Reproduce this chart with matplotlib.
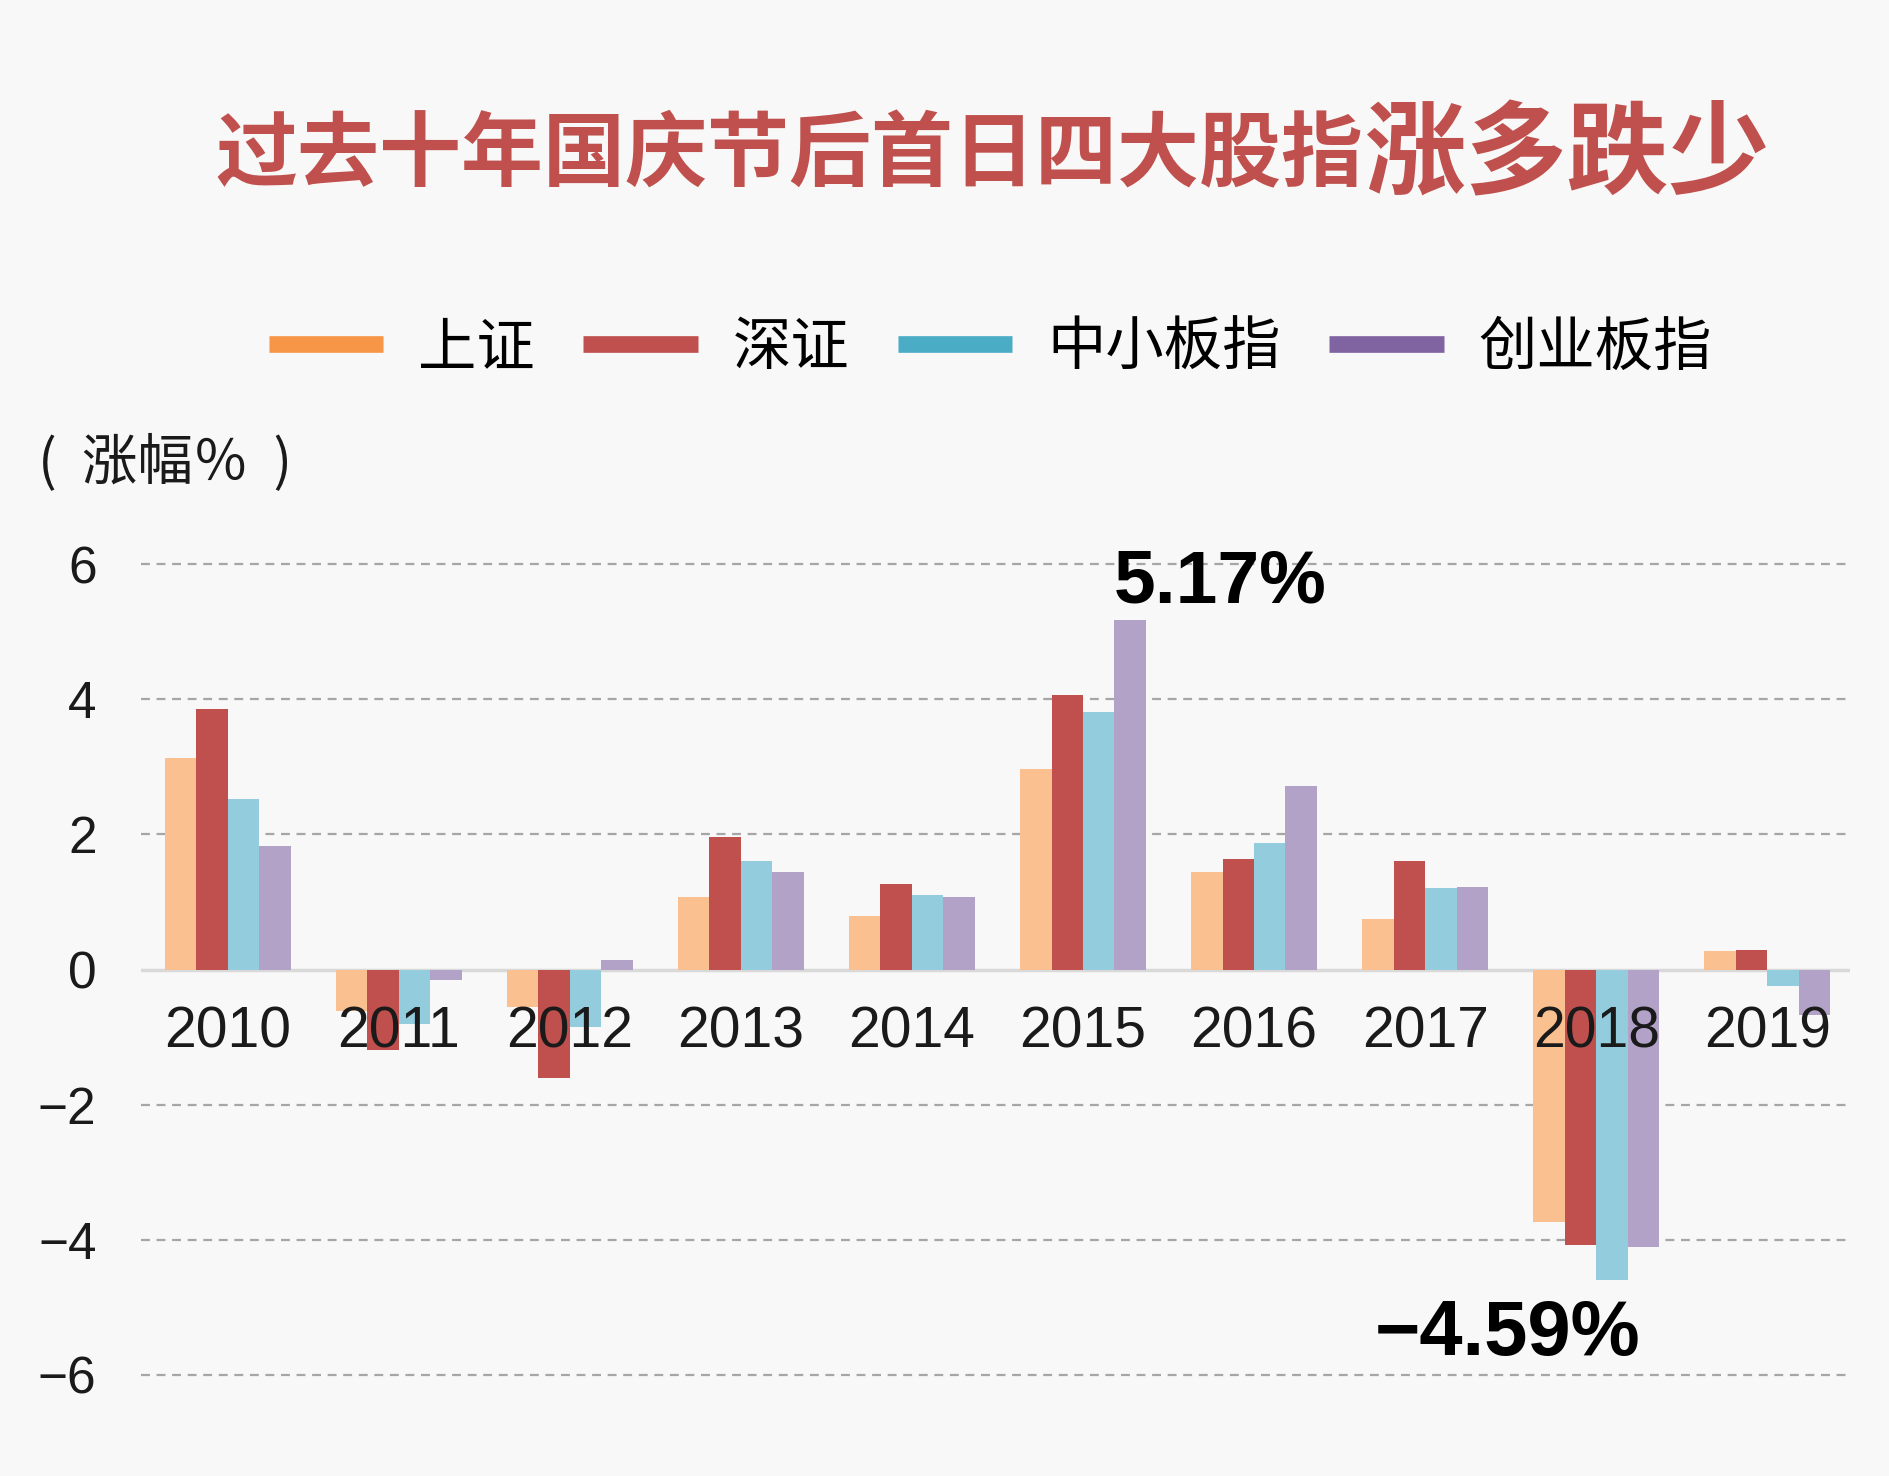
import matplotlib
matplotlib.use("Agg")
import matplotlib.pyplot as plt
from matplotlib.lines import Line2D
import numpy as np

years = ["2010", "2011", "2012", "2013", "2014", "2015", "2016", "2017", "2018", "2019"]
series_names = ["上证", "深证", "中小板指", "创业板指"]
shangzheng = [3.13, -0.62, -0.56, 1.07, 0.79, 2.96, 1.44, 0.75, -3.74, 0.28]
shenzheng = [3.85, -1.19, -1.60, 1.96, 1.27, 4.06, 1.64, 1.60, -4.07, 0.29]
zhongxiao = [2.52, -0.80, -0.85, 1.61, 1.11, 3.81, 1.87, 1.20, -4.59, -0.24]
chuangye = [1.83, -0.15, 0.14, 1.44, 1.07, 5.17, 2.71, 1.22, -4.10, -0.68]
ytick_vals = [-6, -4, -2, 0, 2, 4, 6]
ytick_labels = ["\u22126", "\u22124", "\u22122", "0", "2", "4", "6"]

bar_colors = ["#FAC090", "#C0504D", "#93CDDD", "#B3A2C7"]
legend_colors = ["#F79646", "#C0504D", "#4BACC6", "#8064A2"]
bg = "#F8F8F8"

plt.rcParams["font.family"] = ["Noto Sans CJK SC", "DejaVu Sans"]

fig = plt.figure(figsize=(18.9, 14.76), dpi=100, facecolor=bg)
ax = fig.add_axes([0.0746, 0.0593, 0.9044, 0.5677])
ax.set_facecolor(bg)

x = np.arange(len(years))
w = 0.184
all_series = [shangzheng, shenzheng, zhongxiao, chuangye]
for i, vals in enumerate(all_series):
    ax.bar(x + (i - 1.5) * w, vals, w, color=bar_colors[i], zorder=2, linewidth=0)

ax.set_xlim(-0.507, 9.486)
ax.set_ylim(-6.2, 6.2)

for v in ytick_vals:
    if v != 0:
        ax.axhline(v, color="#A6A6A6", lw=1.6, ls=(0, (4, 3)), zorder=1)
ax.axhline(0, color="#D9D9D9", lw=2.5, zorder=1)

for s in ["top", "right", "left"]:
    ax.spines[s].set_visible(False)
ax.spines["bottom"].set_position(("data", 0))
ax.spines["bottom"].set_visible(False)

ax.set_xticks(x)
ax.set_xticklabels(years, family="Liberation Sans", fontsize=41, color="#1a1a1a")
ax.tick_params(axis="x", length=0, pad=26)
ax.xaxis.set_zorder(5)

ax.set_yticks(ytick_vals)
ax.set_yticklabels(ytick_labels, family="Liberation Sans", fontsize=37, color="#1a1a1a")
ax.tick_params(axis="y", length=0, pad=32)

ax.text(5.80, 5.72, "5.17%", ha="center", va="center", fontsize=54,
        fontweight="bold", family="Liberation Sans", color="black", zorder=6)
ax.text(7.48, -5.40, "\u22124.59%", ha="center", va="center", fontsize=56,
        fontweight="bold", family="Liberation Sans", color="black", zorder=6)

title_color = "#C0504D"
fig.text(0.7215, 0.894, "过去十年国庆节后首日四大股指", ha="right", va="center",
         fontsize=59, fontweight="heavy", color=title_color)
fig.text(0.7215, 0.894, "涨多跌少", ha="left", va="center",
         fontsize=73, fontweight="heavy", color=title_color)

fig.text(0.020, 0.686, "(  涨幅％  )", ha="left", va="center", fontsize=40, color="#1a1a1a")

handles = [Line2D([0], [0], color=c, lw=12, solid_capstyle="butt") for c in legend_colors]
fig.legend(handles, series_names, loc="center", bbox_to_anchor=(0.524, 0.764), ncol=4,
           frameon=False, fontsize=42, handlelength=1.97, handletextpad=0.6,
           columnspacing=0.82)

fig.savefig("out.png", dpi=100, facecolor=bg)
